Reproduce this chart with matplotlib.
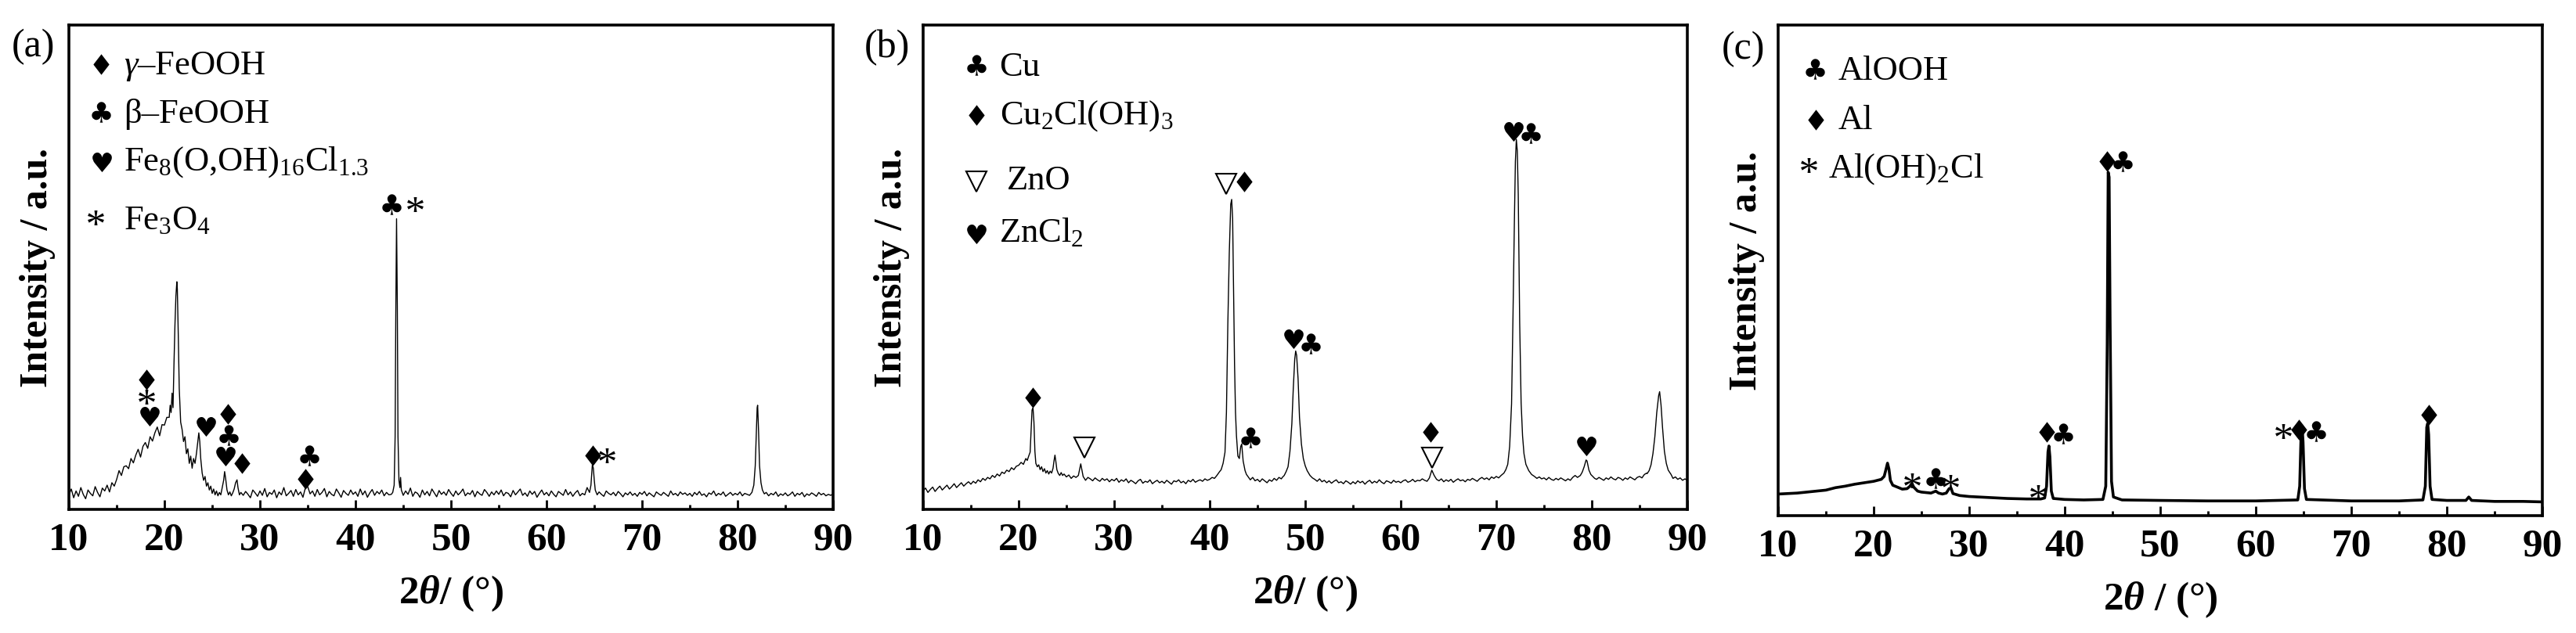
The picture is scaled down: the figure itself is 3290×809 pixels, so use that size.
import numpy as np
import matplotlib
matplotlib.use('Agg')
import matplotlib.pyplot as plt
from matplotlib.textpath import TextPath
from matplotlib.font_manager import FontProperties
from matplotlib.path import Path

plt.rcParams['font.family'] = ['Liberation Serif', 'DejaVu Sans']
plt.rcParams['mathtext.fontset'] = 'custom'
plt.rcParams['mathtext.rm'] = 'Liberation Serif'
plt.rcParams['mathtext.it'] = 'Liberation Serif:italic'
plt.rcParams['mathtext.bf'] = 'Liberation Serif:bold'
plt.rcParams['mathtext.bfit'] = 'Liberation Serif:bold:italic'
plt.rcParams['mathtext.default'] = 'regular'

# ---- data (intensity, 0-1000 = axis height) ----
# (a) baseline every 0.25 deg from 10 to 90
a_base = [
    30, 42, 24, 38, 27, 45, 31, 22, 40, 33, 28, 47, 35, 26, 44, 38, 50, 36, 55, 48,
    62, 80, 70, 88, 90, 84, 105, 96, 112, 124, 108, 130, 138, 126, 150, 141, 158, 170, 152, 175,
    174, 190, 180, 170, 150, 120, 100, 95, 100, 110, 150, 110, 66, 50, 45, 40, 34, 38, 30, 33,
    34, 28, 40, 31, 36, 26, 44, 30, 28, 39, 33, 25, 42, 29, 37, 31, 24, 40, 34, 27,
    38, 29, 43, 26, 35, 31, 40, 24, 36, 30, 45, 28, 33, 39, 27, 41, 30, 36, 25, 44,
    47, 32, 38, 27, 41, 30, 35, 43, 26, 37, 31, 28, 42, 34, 25, 39, 33, 29, 40, 31,
    36, 27, 42, 30, 38, 25, 34, 41, 29, 37, 32, 40, 28, 35, 30, 31, 45, 60, 40, 33,
    29, 38, 31, 44, 27, 36, 33, 25, 40, 30, 37, 28, 42, 34, 26, 39, 31, 36, 29, 41,
    33, 27, 38, 30, 35, 42, 28, 34, 31, 39, 26, 37, 32, 29, 41, 35, 27, 36, 30, 38,
    31, 40, 28, 35, 33, 26, 39, 30, 36, 42, 29, 34, 27, 38, 31, 37, 25, 33, 40, 30,
    35, 28, 38, 31, 26, 37, 33, 29, 41, 30, 36, 27, 34, 39, 28, 33, 30, 45, 90, 70,
    40, 29, 36, 31, 27, 38, 33, 30, 35, 28, 37, 32, 26, 34, 30, 36, 29, 33, 27, 35,
    31, 37, 28, 34, 30, 26, 36, 32, 29, 35, 31, 27, 38, 30, 33, 28, 36, 31, 34, 29,
    33, 27, 35, 30, 37, 29, 32, 26, 34, 31, 38, 28, 33, 30, 36, 27, 31, 35, 29, 33,
    30, 36, 28, 33, 31, 29, 40, 60, 150, 80, 40, 30, 35, 28, 33, 30, 36, 27, 32, 29,
    34, 28, 31, 36, 27, 33, 30, 35, 26, 32, 29, 34, 31, 27, 35, 30, 33, 28, 31, 29,
    32]
a_peaks = [
    [(20.5, 190), (20.6, 215), (20.7, 200), (20.8, 240), (20.9, 210), (21.0, 300),
     (21.1, 380), (21.2, 440), (21.3, 470), (21.35, 455), (21.45, 360), (21.55, 250),
     (21.7, 180), (21.85, 165), (22.0, 140), (22.15, 150), (22.3, 115), (22.45, 125),
     (22.6, 95), (22.75, 110), (22.9, 85), (23.05, 105), (23.2, 95), (23.35, 115),
     (23.5, 140), (23.6, 158), (23.7, 140), (23.8, 105), (23.95, 75), (24.1, 60),
     (24.25, 68), (24.4, 48), (24.55, 55), (24.7, 40), (24.85, 48), (25.0, 33),
     (25.15, 42), (25.3, 30), (25.45, 38), (25.6, 28), (25.75, 35), (25.9, 30),
     (26.05, 45), (26.2, 60), (26.3, 78), (26.4, 65), (26.55, 40), (26.7, 30),
     (26.85, 36), (27.0, 28), (27.15, 34), (27.3, 42), (27.45, 55), (27.6, 61),
     (27.7, 45), (27.85, 30), (28.0, 35)],
    [(43.9, 35), (44.05, 50), (44.15, 150), (44.22, 400), (44.3, 600), (44.38, 420),
     (44.45, 150), (44.55, 60), (44.65, 45), (44.72, 66), (44.8, 40), (44.95, 32)],
    [(64.5, 35), (64.65, 50), (64.8, 93), (64.9, 85), (65.0, 60), (65.1, 40), (65.3, 30)],
    [(81.5, 35), (81.7, 50), (81.85, 90), (81.95, 150), (82.05, 210), (82.1, 215),
     (82.2, 160), (82.3, 90), (82.45, 55), (82.6, 40), (82.8, 32)],
]

# (b) baseline every 0.25 deg from 10 to 90
b_base = [
    38, 44, 35, 41, 46, 37, 43, 48, 40, 45, 50, 42, 47, 53, 45, 50, 55, 48, 53, 57,
    52, 58, 54, 61, 57, 64, 60, 66, 63, 70, 66, 73, 69, 77, 74, 81, 78, 86, 82, 89,
    91, 97, 93, 100, 104, 110, 150, 95, 88, 82, 86, 79, 81, 76, 90, 80, 72, 76, 70, 73,
    67, 71, 64, 69, 66, 70, 94, 68, 60, 66, 63, 59, 65, 61, 58, 64, 60, 63, 57, 62,
    59, 64, 56, 61, 58, 63, 55, 60, 57, 53, 59, 62, 54, 58, 56, 61, 53, 57, 60, 55,
    58, 54, 60, 56, 52, 59, 57, 61, 55, 58, 53, 60, 57, 62, 56, 59, 61, 58, 63, 60,
    62, 66, 64, 70, 75, 100, 150, 400, 640, 300, 100, 135, 93, 80, 68, 72, 65, 61, 66, 59,
    62, 57, 63, 59, 55, 61, 58, 64, 60, 66, 63, 70, 75, 93, 177, 327, 285, 152, 110, 93,
    85, 74, 70, 65, 62, 58, 63, 57, 60, 55, 59, 54, 58, 61, 55, 57, 53, 59, 56, 52,
    57, 53, 59, 55, 58, 52, 57, 60, 54, 58, 55, 61, 56, 53, 59, 57, 54, 60, 56, 58,
    55, 59, 61, 56, 58, 62, 57, 60, 59, 63, 60, 58, 65, 81, 70, 62, 59, 63, 57, 61,
    58, 62, 56, 60, 63, 59, 61, 57, 62, 60, 64, 61, 58, 63, 66, 62, 65, 61, 67, 64,
    68, 65, 70, 74, 80, 93, 218, 718, 702, 152, 93, 80, 72, 75, 69, 66, 70, 64, 67, 63,
    65, 61, 66, 62, 60, 64, 61, 65, 62, 59, 63, 60, 66, 70, 77, 90, 102, 81, 70, 66,
    64, 68, 62, 66, 63, 60, 65, 62, 67, 63, 61, 66, 64, 60, 65, 62, 67, 64, 61, 66,
    68, 65, 72, 75, 85, 102, 168, 243, 193, 110, 81, 75, 68, 71, 64, 67, 62, 65, 60, 63,
    60]
b_peaks = [
    [(20.6, 98), (20.75, 105), (20.9, 101), (21.05, 110), (21.2, 118), (21.3, 160),
     (21.4, 205), (21.5, 210), (21.6, 180), (21.7, 120), (21.8, 95), (21.95, 88),
     (22.1, 92), (22.25, 82), (22.4, 88), (22.55, 78), (22.7, 84), (22.85, 75),
     (23.0, 80), (23.15, 73), (23.3, 79), (23.45, 75), (23.6, 85), (23.7, 100),
     (23.8, 112), (23.9, 98), (24.0, 82), (24.15, 74), (24.3, 70), (24.45, 76), (24.6, 70)],
    [(41.0, 77), (41.2, 82), (41.4, 95), (41.6, 118), (41.75, 200), (41.9, 385),
     (42.05, 530), (42.2, 630), (42.3, 640), (42.4, 600), (42.5, 450), (42.6, 300),
     (42.7, 200), (42.8, 152), (42.95, 110), (43.1, 105), (43.25, 130), (43.35, 135),
     (43.5, 100), (43.7, 80), (43.85, 72), (44.0, 68)],
    [(47.6, 66), (47.8, 70), (48.0, 78), (48.2, 88), (48.4, 120), (48.6, 177),
     (48.75, 250), (48.9, 310), (49.0, 327), (49.1, 318), (49.25, 270), (49.4, 190),
     (49.6, 135), (49.8, 105), (50.0, 90), (50.2, 80), (50.5, 70)],
    [(70.8, 75), (71.0, 82), (71.2, 93), (71.4, 130), (71.6, 218), (71.75, 400),
     (71.9, 600), (72.0, 718), (72.1, 764), (72.2, 740), (72.3, 650), (72.45, 385),
     (72.6, 220), (72.75, 152), (72.9, 115), (73.1, 93), (73.4, 80), (73.7, 72), (74.0, 68)],
    [(78.5, 66), (78.8, 70), (79.0, 77), (79.2, 88), (79.4, 102), (79.5, 100),
     (79.7, 81), (79.9, 72), (80.1, 68), (80.3, 64)],
    [(85.8, 74), (86.0, 80), (86.2, 92), (86.4, 115), (86.6, 150), (86.8, 200),
     (87.0, 235), (87.1, 243), (87.25, 215), (87.4, 170), (87.6, 120), (87.8, 95),
     (88.0, 81), (88.3, 72)],
]

# (c) smooth pattern
c_theta = [10, 12, 14, 15, 16, 17, 18, 19, 20, 20.8, 21.1, 21.3, 21.45, 21.6, 21.75,
           22.0, 22.5, 23.0, 23.5, 23.8, 24.0, 24.2, 24.6, 25, 25.5, 26, 26.5, 26.8,
           27.2, 27.6, 27.9, 28.1, 28.3, 29, 30, 32, 34, 36, 37.5, 37.9, 38.1, 38.25,
           38.35, 38.45, 38.6, 38.8, 40, 42, 44.0, 44.3, 44.45, 44.55, 44.65, 44.75,
           44.9, 45.1, 46, 50, 55, 60, 64.4, 64.6, 64.75, 64.85, 64.95, 65.1, 65.3,
           70, 75, 77.5, 77.75, 77.9, 78.0, 78.1, 78.25, 78.45, 80, 82, 82.3, 82.6,
           85, 88, 90]
c_int = [44, 46, 50, 52, 57, 60, 64, 67, 70, 74, 80, 95, 107, 95, 72,
         62, 58, 54, 55, 60, 66, 58, 50, 48, 47, 46, 50, 46,
         44, 46, 55, 56, 45, 41, 39, 37, 35, 34, 34, 36, 60, 130,
         142, 120, 50, 35, 33, 32, 33, 60, 350, 700, 690, 400,
         70, 38, 32, 31, 30, 30, 32, 60, 170, 183, 150, 55, 33,
         30, 30, 32, 60, 180, 188, 165, 60, 33, 31, 31, 38, 31,
         29, 29, 28]

# phase marks: (symbol, 2theta, height)
a_marks = [('D', 18.1, 268), ('S', 18.1, 233), ('H', 18.45, 192), ('H', 24.35, 171),
           ('D', 26.6, 197), ('C', 26.7, 153), ('H', 26.4, 110), ('D', 28.1, 95),
           ('C', 35.2, 111), ('D', 34.75, 63), ('C', 43.75, 630), ('S', 46.2, 630),
           ('D', 64.85, 112), ('S', 66.3, 112)]
b_marks = [('D', 21.5, 231), ('V', 26.9, 127), ('V', 41.7, 672), ('D', 43.6, 677),
           ('C', 44.3, 148), ('H', 48.8, 352), ('C', 50.6, 343), ('D', 63.1, 160),
           ('V', 63.3, 106), ('H', 71.8, 781), ('C', 73.6, 777), ('H', 79.4, 131)]
c_marks = [('D', 44.4, 722), ('C', 46.1, 722), ('D', 38.1, 171), ('C', 39.8, 167),
           ('S', 24.0, 72), ('C', 26.5, 76), ('S', 28.0, 68), ('S', 37.25, 48),
           ('S', 62.9, 173), ('D', 64.5, 175), ('C', 66.3, 173), ('D', 78.1, 206)]

# legends: (symbol, label)
a_legend = [('D', r'$\mathit{\gamma}$–FeOOH'), ('C', 'β–FeOOH'),
            ('H', r'Fe$_{8}$(O,OH)$_{16}$Cl$_{1.3}$'), ('S', r'Fe$_{3}$O$_{4}$')]
b_legend = [('C', 'Cu'), ('D', r'Cu$_{2}$Cl(OH)$_{3}$'), ('V', 'ZnO'), ('H', r'ZnCl$_{2}$')]
c_legend = [('C', 'AlOOH'), ('D', 'Al'), ('S', r'Al(OH)$_{2}$Cl')]


def profile(base, peaks):
    x = 10 + 0.25 * np.arange(len(base))
    y = np.array(base, float)
    keep = np.ones(len(x), bool)
    for seg in peaks:
        xs = [p[0] for p in seg]
        keep &= ~((x >= min(xs)) & (x <= max(xs)))
    px = [p[0] for seg in peaks for p in seg]
    py = [p[1] for seg in peaks for p in seg]
    xx = np.concatenate([x[keep], px])
    yy = np.concatenate([y[keep], py])
    order = np.argsort(xx)
    return xx[order], yy[order]


def glyph(ch, family='DejaVu Sans'):
    tp = TextPath((0, 0), ch, size=10, prop=FontProperties(family=family))
    ext = tp.get_extents()
    v = tp.vertices - [(ext.x0 + ext.x1) / 2, (ext.y0 + ext.y1) / 2]
    v[tp.codes == Path.CLOSEPOLY] = 0
    return Path(v, tp.codes)


sym = {'D': glyph('♦'), 'C': glyph('♣'), 'H': glyph('♥'),
       'S': glyph('*', 'Liberation Serif')}
size = {'D': 19, 'C': 19, 'H': 18, 'S': 15, 'V': 19}


def put(ax, code, x, y, **kw):
    if code == 'V':
        ax.plot(x, y, ls='none', marker='v', ms=size[code], mfc='white',
                mec='k', mew=1.5, zorder=5, **kw)
    else:
        ax.plot(x, y, ls='none', marker=sym[code], ms=size[code], color='k',
                mew=0, zorder=5, **kw)


def setup(ax, letter, xlabel, lab_xy):
    ax.set_xlim(10, 90)
    ax.set_ylim(0, 1000)
    ax.set_xticks(range(10, 91, 10))
    ax.set_xticks(range(15, 90, 10), minor=True)
    ax.set_xticklabels([str(t) for t in range(10, 91, 10)], fontweight='bold')
    ax.set_yticks([])
    ax.tick_params(axis='x', which='major', direction='in', length=8.5, width=2,
                   pad=12, labelsize=37)
    ax.tick_params(axis='x', which='minor', direction='in', length=4, width=2)
    for s in ax.spines.values():
        s.set_linewidth(2.6)
    ax.set_xlabel(xlabel, fontsize=37, fontweight='bold', labelpad=14)
    ax.set_ylabel('Intensity / a.u.', fontsize=36, fontweight='bold', labelpad=12)
    ax.text(lab_xy[0], lab_xy[1], letter, transform=ax.transAxes, fontsize=36,
            ha='center', va='center')


fig = plt.figure(figsize=(32.91, 8.09), dpi=100)
ax_a = fig.add_axes([0.02674, 0.19530, 0.29657, 0.76514])
ax_b = fig.add_axes([0.35825, 0.19530, 0.29657, 0.76514])
ax_c = fig.add_axes([0.69006, 0.18541, 0.29657, 0.77503])

# (a)
xa, ya = profile(a_base, a_peaks)
ax_a.plot(xa, ya, color='k', lw=1.0)
setup(ax_a, '(a)', r'2$\boldsymbol{\theta}$/ (°)', (-0.047, 0.955))
for code, x, y in a_marks:
    put(ax_a, code, x, y)
a_sym_y = [0.919, 0.821, 0.717, 0.602]
a_sym_x = [0.042, 0.042, 0.043, 0.035]
a_txt_y = [0.898, 0.798, 0.700, 0.578]
for (code, label), sx, sy, ty in zip(a_legend, a_sym_x, a_sym_y, a_txt_y):
    put(ax_a, code, sx, sy, transform=ax_a.transAxes, clip_on=False)
    ax_a.text(0.072, ty, label, transform=ax_a.transAxes, fontsize=32, va='baseline')

# (b)
xb, yb = profile(b_base, b_peaks)
ax_b.plot(xb, yb, color='k', lw=1.0)
setup(ax_b, '(b)', r'2$\boldsymbol{\theta}$/ (°)', (-0.047, 0.953))
for code, x, y in b_marks:
    put(ax_b, code, x, y)
b_sym_y = [0.918, 0.814, 0.677, 0.569]
b_txt_x = [0.100, 0.100, 0.110, 0.099]
b_txt_y = [0.895, 0.795, 0.660, 0.552]
for (code, label), sy, tx, ty in zip(b_legend, b_sym_y, b_txt_x, b_txt_y):
    put(ax_b, code, 0.070, sy, transform=ax_b.transAxes, clip_on=False)
    ax_b.text(tx, ty, label, transform=ax_b.transAxes, fontsize=32, va='baseline')

# (c)
ax_c.plot(c_theta, c_int, color='k', lw=2.6)
setup(ax_c, '(c)', r'2$\boldsymbol{\theta}$ / (°)', (-0.046, 0.95))
for code, x, y in c_marks:
    put(ax_c, code, x, y)
c_sym_x = [0.048, 0.049, 0.040]
c_sym_y = [0.911, 0.807, 0.714]
c_txt_x = [0.079, 0.079, 0.066]
c_txt_y = [0.888, 0.788, 0.689]
for (code, label), sx, sy, tx, ty in zip(c_legend, c_sym_x, c_sym_y, c_txt_x, c_txt_y):
    put(ax_c, code, sx, sy, transform=ax_c.transAxes, clip_on=False)
    ax_c.text(tx, ty, label, transform=ax_c.transAxes, fontsize=32, va='baseline')

fig.savefig('out.png', dpi=100)
